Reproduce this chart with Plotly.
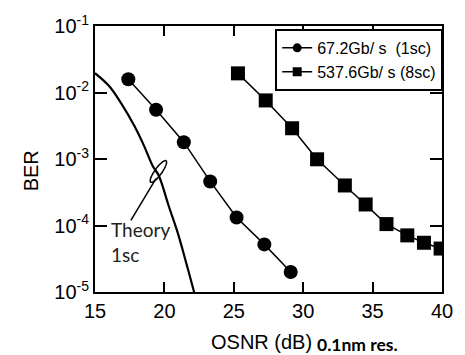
import plotly.graph_objects as go
import numpy as np

# ---- data ----
osnr_1sc = [17.4, 19.4, 21.4, 23.3, 25.2, 27.2, 29.1]
ber_1sc = [1.58e-2, 5.5e-3, 1.79e-3, 4.6e-4, 1.32e-4, 5.2e-5, 2.0e-5]

osnr_8sc = [25.3, 27.3, 29.2, 31.0, 33.0, 34.5, 36.0, 37.5, 38.7, 39.9]
ber_8sc = [1.94e-2, 7.6e-3, 2.9e-3, 9.9e-4, 4.0e-4, 2.07e-4, 1.05e-4, 7.1e-5, 5.5e-5, 4.5e-5]

theory_osnr = [15.0, 16.0, 16.9, 17.85, 18.55, 19.15, 19.6, 20.3, 21.0, 21.6, 22.1, 22.25]
theory_ber = [1.95e-2, 1.26e-2, 6.8e-3, 3.1e-3, 1.55e-3, 7.9e-4, 5.6e-4, 2.0e-4, 7.3e-5, 2.6e-5, 1.07e-5, 8e-6]

x_ticks = [15, 20, 25, 30, 35, 40]
y_ticks = [1e-1, 1e-2, 1e-3, 1e-4, 1e-5]
y_ticktext = ["10<sup>-1</sup>", "10<sup>-2</sup>", "10<sup>-3</sup>", "10<sup>-4</sup>", "10<sup>-5</sup>"]

label_1sc = "67.2Gb/ s  (1sc)"
label_8sc = "537.6Gb/ s (8sc)"

# ---- geometry ----
W, H = 465, 355
L, R, T, B = 95, 17, 21, 63
PW, PH = W - L - R, H - T - B


def px2paper(px, py):
    return (px - L) / PW, 1 - (py - T) / PH


fig = go.Figure()

fig.add_trace(go.Scatter(x=theory_osnr, y=theory_ber, mode="lines",
                         line=dict(color="black", width=2.2, shape="spline"),
                         showlegend=False, hoverinfo="skip"))
fig.add_trace(go.Scatter(x=osnr_1sc, y=ber_1sc, mode="lines+markers",
                         line=dict(color="black", width=1.5),
                         marker=dict(symbol="circle", size=14, color="black"),
                         showlegend=False))
fig.add_trace(go.Scatter(x=osnr_8sc, y=ber_8sc, mode="lines+markers",
                         line=dict(color="black", width=1.5),
                         marker=dict(symbol="square", size=14, color="black"),
                         showlegend=False))
# legend entries (small markers as in the reference)
fig.add_trace(go.Scatter(x=[None], y=[None], mode="lines+markers", name=label_1sc,
                         line=dict(color="black", width=1.5),
                         marker=dict(symbol="circle", size=9, color="black")))
fig.add_trace(go.Scatter(x=[None], y=[None], mode="lines+markers", name=label_8sc,
                         line=dict(color="black", width=1.5),
                         marker=dict(symbol="square", size=9, color="black")))

axis_common = dict(showgrid=False, zeroline=False, showline=True, linecolor="black",
                   linewidth=2, mirror="ticks", ticks="inside", tickcolor="black",
                   tickwidth=2, tickfont=dict(family="Liberation Sans, Arial", size=20, color="black"))

fig.update_xaxes(range=[15, 40], tickvals=x_ticks, ticklen=10, **axis_common)
fig.update_yaxes(type="log", range=[-5, -1], tickvals=y_ticks, ticktext=y_ticktext,
                 ticklen=12, **axis_common)

# ellipse annotation around theory curve
cx, cy = 159.5, 169.2
a, b = 13.4, 3.6
ang = np.arctan2(-21.7, 15.6)
t = np.linspace(0, 2 * np.pi, 40)
ex = cx + a * np.cos(t) * np.cos(ang) - b * np.sin(t) * np.sin(ang)
ey = cy + a * np.cos(t) * np.sin(ang) + b * np.sin(t) * np.cos(ang)
pts = [px2paper(x, y) for x, y in zip(ex, ey)]
path = "M " + " L ".join(f"{p[0]:.4f},{p[1]:.4f}" for p in pts) + " Z"
shapes = [dict(type="path", path=path, xref="paper", yref="paper",
               line=dict(color="black", width=1.5))]
x0, y0 = px2paper(157, 176.5)
x1, y1 = px2paper(131.5, 219)
shapes.append(dict(type="line", xref="paper", yref="paper", x0=x0, y0=y0, x1=x1, y1=y1,
                   line=dict(color="black", width=1.5)))

ann = []
tx, ty = px2paper(109, 215)
ann.append(dict(text="Theory<br>1sc", xref="paper", yref="paper", x=tx, y=ty,
                xanchor="left", yanchor="top", align="left", showarrow=False,
                font=dict(family="Lato", size=19, color="#222")))
ox, oy = px2paper(264, 343)
ann.append(dict(text="OSNR (dB)", xref="paper", yref="paper", x=ox, y=oy,
                xanchor="center", yanchor="middle", showarrow=False,
                font=dict(family="Liberation Sans, Arial", size=20, color="black")))
rx, ry = px2paper(319, 345)
ann.append(dict(text="<b>0.1nm res.</b>", xref="paper", yref="paper", x=rx, y=ry,
                xanchor="left", yanchor="middle", showarrow=False,
                font=dict(family="Lato", size=17.5, color="black")))
bx, by = px2paper(30, 169)
ann.append(dict(text="BER", xref="paper", yref="paper", x=bx, y=by, textangle=-90,
                xanchor="center", yanchor="middle", showarrow=False,
                font=dict(family="Liberation Sans, Arial", size=20, color="black")))

lx, ly = px2paper(278.3, 24)
fig.update_layout(
    width=W, height=H, margin=dict(l=L, r=R, t=T, b=B),
    paper_bgcolor="white", plot_bgcolor="white",
    shapes=shapes, annotations=ann,
    legend=dict(x=lx, y=ly, xanchor="left", yanchor="top", bgcolor="white",
                bordercolor="black", borderwidth=2, tracegroupgap=0,
                font=dict(family="Liberation Sans, Arial", size=16, color="black")),
)

fig.write_html("out.html", config={"responsive": False, "displayModeBar": False},
               post_script="document.body.style.margin='0';document.body.style.overflow='hidden';")
